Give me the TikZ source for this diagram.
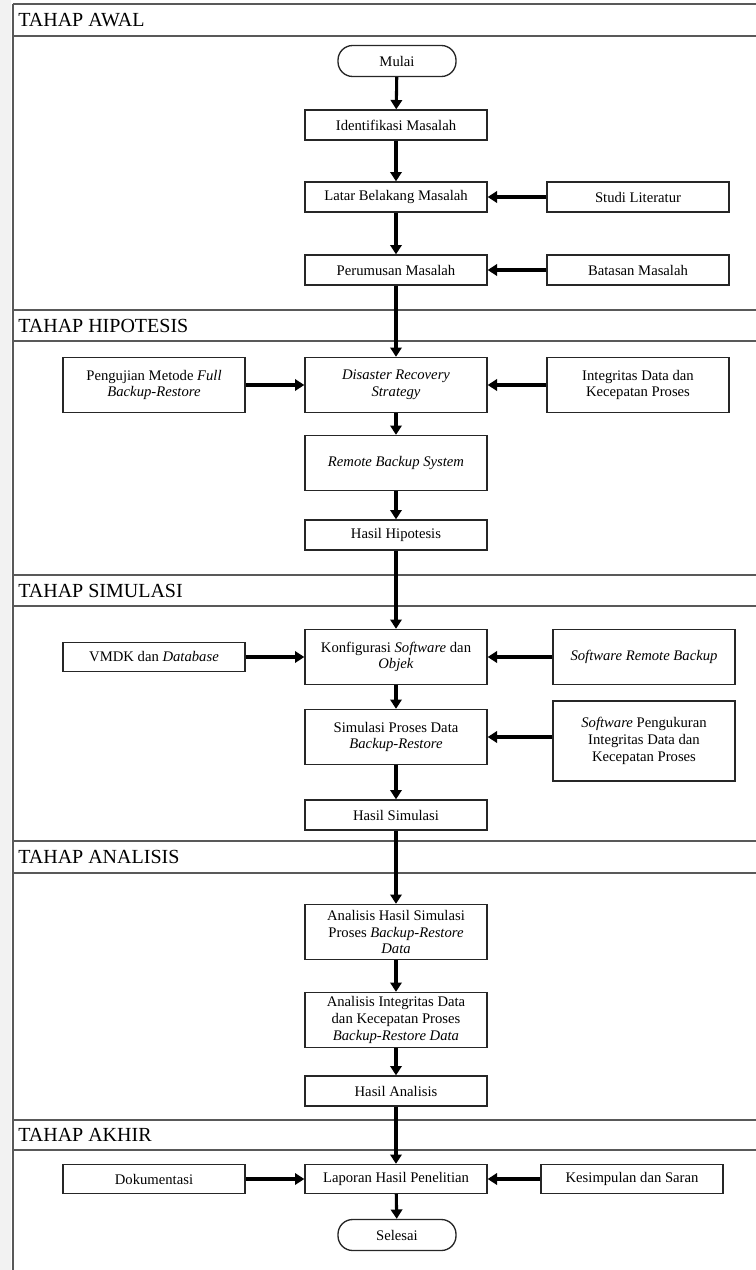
\documentclass[tikz,border=0pt]{standalone}
\usepackage{fontspec}
\setmainfont{Liberation Serif}
\usetikzlibrary{arrows.meta}
\begin{document}
\begin{tikzpicture}[x=0.75pt,y=-0.75pt,
  every node/.style={font=\fontsize{11}{12.5}\selectfont, inner sep=1pt},
  box/.style={draw=black!85, line width=1pt, minimum width=136.5pt, minimum height=22.5pt, align=center},
  tall/.style={box, minimum height=41.25pt},
  taller/.style={box, minimum height=60pt},
  term/.style={draw=black!85, line width=1pt, rounded corners=11pt, minimum width=88.5pt, minimum height=23.25pt},
  frame/.style={draw=black!65, line width=1.4pt},
  hdr/.style={anchor=west, font=\fontsize{15}{17}\selectfont, inner sep=0pt},
  arr/.style={line width=2.3pt, -{Triangle[length=7pt,width=8.5pt]}}
]
\useasboundingbox (0,0) rectangle (756,1270);
\fill[black!5] (0,0) rectangle (11,1270);
% frame
\foreach \yy in {4,36,310,341,575,606,841,873,1120,1150}{
  \draw[frame] (13,\yy) -- (756,\yy);
}
\draw[frame] (13,4) -- (13,1270);
\node[hdr] (h1) at (18,20) {TAHAP AWAL};
\node[hdr] (h2) at (18,326) {TAHAP HIPOTESIS};
\node[hdr] (h3) at (18,591) {TAHAP SIMULASI};
\node[hdr] (h4) at (18,857) {TAHAP ANALISIS};
\node[hdr] (h5) at (18,1135) {TAHAP AKHIR};
% awal
\node[term] (mulai) at (397,61) {Mulai};
\node[box] (ident) at (396,125) {Identifikasi Masalah};
\node[box] (latar) at (396,197) {Latar Belakang Masalah};
\node[box] (studi) at (638,197) {Studi Literatur};
\node[box] (rumus) at (396,270) {Perumusan Masalah};
\node[box] (batas) at (638,270) {Batasan Masalah};
% hipotesis
\node[tall] (drs) at (396,385) {\textit{Disaster Recovery}\\\textit{Strategy}};
\node[tall] (uji) at (154,385) {Pengujian Metode \textit{Full}\\\textit{Backup-Restore}};
\node[tall] (integ) at (638,385) {Integritas Data dan\\Kecepatan Proses};
\node[tall] (rbs) at (396,463) {\textit{Remote Backup System}};
\node[box] (hhip) at (396,535) {Hasil Hipotesis};
% simulasi
\node[tall] (konf) at (396,657) {Konfigurasi \textit{Software} dan\\\textit{Objek}};
\node[box, minimum height=21.75pt] (vmdk) at (154,657) {VMDK dan \textit{Database}};
\node[tall] (srb) at (644,657) {\textit{Software Remote Backup}};
\node[tall] (sim) at (396,737) {Simulasi Proses Data\\\textit{Backup-Restore}};
\node[taller] (spik) at (644,741) {\textit{Software} Pengukuran\\Integritas Data dan\\Kecepatan Proses};
\node[box] (hsim) at (396,815) {Hasil Simulasi};
% analisis
\node[tall] (ahs) at (396,932) {Analisis Hasil Simulasi\\Proses \textit{Backup-Restore}\\\textit{Data}};
\node[tall] (aid) at (396,1020) {Analisis Integritas Data\\dan Kecepatan Proses\\\textit{Backup-Restore Data}};
\node[box] (han) at (396,1091) {Hasil Analisis};
% akhir
\node[box, minimum height=21.75pt] (lap) at (396,1179) {Laporan Hasil Penelitian};
\node[box, minimum height=21.75pt] (dok) at (154,1179) {Dokumentasi};
\node[box, minimum height=21.75pt] (kes) at (632,1179) {Kesimpulan dan Saran};
\node[term] (sel) at (397,1235) {Selesai};
% arrows
\draw[arr] (mulai) -- (ident);
\draw[arr] (ident) -- (latar);
\draw[arr] (latar) -- (rumus);
\draw[arr] (studi) -- (latar);
\draw[arr] (batas) -- (rumus);
\draw[arr] (rumus) -- (drs);
\draw[arr] (uji) -- (drs);
\draw[arr] (integ) -- (drs);
\draw[arr] (drs) -- (rbs);
\draw[arr] (rbs) -- (hhip);
\draw[arr] (hhip) -- (konf);
\draw[arr] (vmdk) -- (vmdk -| konf.west);
\draw[arr] (srb) -- (konf);
\draw[arr] (konf) -- (sim);
\draw[arr] (sim.east -| spik.west) -- (sim.east);
\draw[arr] (sim) -- (hsim);
\draw[arr] (hsim) -- (ahs);
\draw[arr] (ahs) -- (aid);
\draw[arr] (aid) -- (han);
\draw[arr] (han) -- (lap);
\draw[arr] (dok) -- (lap);
\draw[arr] (kes) -- (lap);
\draw[arr] (lap) -- (sel);
\end{tikzpicture}
\end{document}
